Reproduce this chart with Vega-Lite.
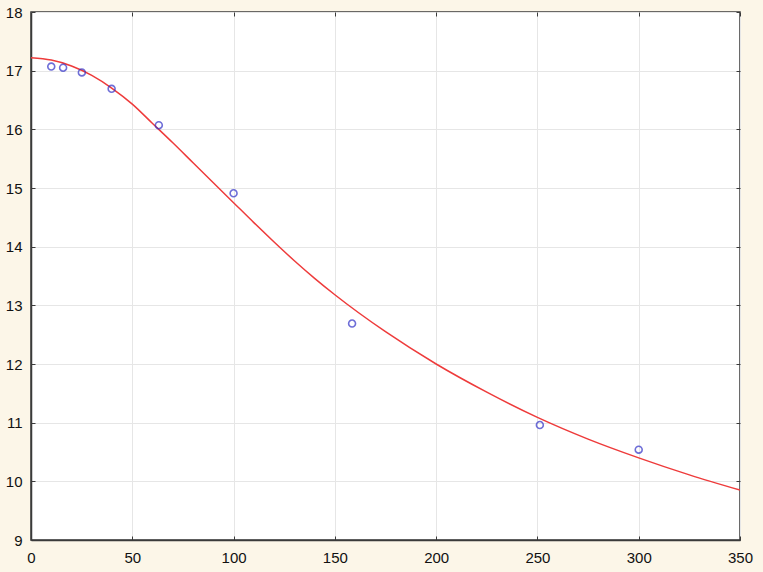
{
  "$schema": "https://vega.github.io/schema/vega-lite/v6.json",
  "autosize": "none",
  "width": 709,
  "height": 528,
  "padding": {"left": 31, "top": 12, "right": 23, "bottom": 32},
  "background": "#fcf6e8",
  "config": {
    "view": {"stroke": "#3a3a3a", "strokeWidth": 1.5, "fill": "white"},
    "axis": {
      "labelFont": "Liberation Sans",
      "labelFontSize": 15,
      "labelColor": "#111111",
      "labelFlush": false,
      "labelOverlap": false,
      "gridColor": "#e6e6e6",
      "gridWidth": 1,
      "domainColor": "#3a3a3a",
      "domainWidth": 1.5,
      "tickColor": "#3a3a3a",
      "tickSize": -4,
      "tickWidth": 1,
      "title": null
    }
  },
  "datasets": {
    "obs": [
      {"x": 10, "y": 17.07},
      {"x": 15.85, "y": 17.05},
      {"x": 25.1, "y": 16.97},
      {"x": 39.8, "y": 16.69},
      {"x": 63.1, "y": 16.07},
      {"x": 100, "y": 14.91},
      {"x": 158.5, "y": 12.69},
      {"x": 251.2, "y": 10.96},
      {"x": 300, "y": 10.54}
    ],
    "fit": [
      {"x": 0, "y": 17.22},
      {"x": 10, "y": 17.18},
      {"x": 20, "y": 17.08},
      {"x": 30, "y": 16.92},
      {"x": 40, "y": 16.7},
      {"x": 50, "y": 16.43},
      {"x": 60, "y": 16.1},
      {"x": 70, "y": 15.77},
      {"x": 80, "y": 15.43},
      {"x": 90, "y": 15.09},
      {"x": 100, "y": 14.75},
      {"x": 110, "y": 14.41},
      {"x": 120, "y": 14.08},
      {"x": 130, "y": 13.76},
      {"x": 140, "y": 13.46},
      {"x": 150, "y": 13.18},
      {"x": 175, "y": 12.55},
      {"x": 200, "y": 12.0},
      {"x": 225, "y": 11.52},
      {"x": 250, "y": 11.09},
      {"x": 275, "y": 10.72},
      {"x": 300, "y": 10.4},
      {"x": 325, "y": 10.11},
      {"x": 350, "y": 9.85}
    ]
  },
  "layer": [
    {
      "data": {"name": "fit"},
      "mark": {"type": "line", "color": "#ee3b3b", "strokeWidth": 1.5, "interpolate": "monotone", "clip": true},
      "encoding": {
        "x": {"field": "x", "type": "quantitative", "scale": {"domain": [0, 350], "nice": false},
              "axis": {"orient": "bottom", "values": [0, 50, 100, 150, 200, 250, 300, 350], "labelPadding": 14, "grid": true}},
        "y": {"field": "y", "type": "quantitative", "scale": {"domain": [9, 18], "nice": false, "zero": false},
              "axis": {"orient": "left", "values": [9, 10, 11, 12, 13, 14, 15, 16, 17, 18], "labelPadding": 13, "grid": true}}
      }
    },
    {
      "data": {"name": "obs"},
      "mark": {"type": "point", "shape": "circle", "filled": false, "color": "#3232c8", "size": 48, "strokeWidth": 1.6},
      "encoding": {
        "x": {"field": "x", "type": "quantitative",
              "axis": {"orient": "top", "values": [0, 50, 100, 150, 200, 250, 300, 350], "labels": false, "grid": false, "domain": false}},
        "y": {"field": "y", "type": "quantitative",
              "axis": {"orient": "right", "values": [9, 10, 11, 12, 13, 14, 15, 16, 17, 18], "labels": false, "grid": false, "domain": false}}
      }
    }
  ],
  "resolve": {"axis": {"x": "independent", "y": "independent"}}
}
